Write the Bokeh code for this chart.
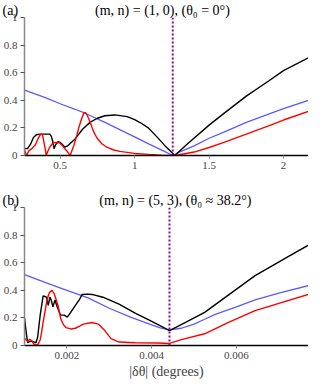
from bokeh.plotting import figure
from bokeh.layouts import column
from bokeh.models import FixedTicker, Range1d, Title
from bokeh.embed import file_html
from bokeh.resources import INLINE

# ---------------- panel (a) data ----------------
a_black_x = [0.26, 0.28, 0.30, 0.32, 0.34, 0.36, 0.40, 0.43, 0.44, 0.45, 0.458, 0.47, 0.485, 0.50, 0.515, 0.53,
             0.55, 0.60, 0.65, 0.70, 0.75, 0.80, 0.867, 0.95, 1.00, 1.05, 1.094, 1.15, 1.20, 1.27, 1.35, 1.50,
             1.60, 1.75, 1.90, 2.00, 2.168]
a_black_y = [0.05, 0.05, 0.08, 0.13, 0.15, 0.155, 0.155, 0.155, 0.14, 0.10, 0.05, 0.08, 0.10, 0.095, 0.08, 0.06,
             0.07, 0.12, 0.19, 0.24, 0.27, 0.288, 0.294, 0.282, 0.26, 0.23, 0.198, 0.135, 0.075, 0.0, 0.08, 0.22,
             0.305, 0.43, 0.54, 0.615, 0.709]

a_red_x = [0.26, 0.274, 0.29, 0.31, 0.334, 0.35, 0.365, 0.38, 0.39, 0.40, 0.406, 0.42, 0.432, 0.45, 0.465, 0.48,
           0.497, 0.515, 0.528, 0.55, 0.567, 0.58, 0.594, 0.61, 0.627, 0.645, 0.659, 0.67, 0.68, 0.70, 0.715,
           0.73, 0.748, 0.78, 0.813, 0.86, 0.9, 1.0, 1.094, 1.18, 1.256, 1.3, 1.4, 1.5, 1.6, 1.75, 1.9, 2.0, 2.168]
a_red_y = [0.04, 0.0, 0.035, 0.05, 0.08, 0.12, 0.15, 0.155, 0.10, 0.04, 0.0, 0.04, 0.065, 0.09, 0.094, 0.095,
           0.09, 0.07, 0.053, 0.025, 0.0, 0.04, 0.08, 0.14, 0.21, 0.27, 0.31, 0.31, 0.295, 0.245, 0.2,
           0.16, 0.125, 0.085, 0.06, 0.04, 0.03, 0.015, 0.008, 0.003, 0.0, 0.005, 0.025, 0.058, 0.095, 0.155,
           0.215, 0.257, 0.32]

a_blue_x = [0.26, 0.4, 0.5, 0.6, 0.659, 0.7, 0.8, 0.9, 1.0, 1.094, 1.2, 1.256, 1.3, 1.4, 1.5, 1.6, 1.75, 1.9,
            2.0, 2.168]
a_blue_y = [0.474, 0.42, 0.375, 0.335, 0.31, 0.29, 0.24, 0.187, 0.135, 0.084, 0.03, 0.0, 0.025, 0.07, 0.125,
            0.17, 0.24, 0.30, 0.34, 0.40]

a_marker_x = 1.256
a_xrange = (0.26, 2.168)
a_xticks = [0.5, 1, 1.5, 2]
a_xlabels = ["0.5", "1", "1.5", "2"]
a_tag = "(a)"
a_title = "(m, n) = (1, 0), (θ₀ = 0°)"

# ---------------- panel (b) data ----------------
b_black_x = [0.001, 0.00103, 0.00106, 0.00108, 0.00113, 0.00118, 0.00123, 0.00127, 0.00131, 0.00137, 0.00144,
             0.00148, 0.00152, 0.00156, 0.0016, 0.00163, 0.00167, 0.00172, 0.00176, 0.00185, 0.00194, 0.00201,
             0.00209, 0.0022, 0.0023, 0.00236, 0.00248, 0.00259, 0.00285, 0.00323, 0.00361, 0.00392, 0.00415,
             0.00442, 0.0048, 0.00525, 0.0058, 0.00644, 0.0072, 0.0077]
b_black_y = [0.2, 0.12, 0.05, 0.02, 0.03, 0.03, 0.025, 0.02, 0.06, 0.22, 0.36,
             0.355, 0.35, 0.29, 0.35, 0.33, 0.28, 0.33, 0.29, 0.22, 0.22, 0.205,
             0.24, 0.29, 0.335, 0.37, 0.372, 0.37, 0.35, 0.30, 0.235, 0.188, 0.152,
             0.108, 0.168, 0.24, 0.363, 0.506, 0.64, 0.728]

b_red_x = [0.001, 0.00105, 0.00108, 0.00112, 0.00117, 0.00122, 0.00127, 0.00132, 0.00137, 0.0014, 0.00144,
           0.00148, 0.00152, 0.00156, 0.00159, 0.00165, 0.0017, 0.00175, 0.00179, 0.00186, 0.00192, 0.00198,
           0.00209, 0.0022, 0.0023, 0.00239, 0.00259, 0.00274, 0.00289, 0.00304, 0.00323, 0.00361, 0.00415,
           0.00442, 0.0047, 0.00525, 0.0058, 0.00644, 0.0077]
b_red_y = [0.053, 0.035, 0.03, 0.045, 0.035, 0.01, 0.002, 0.01, 0.04, 0.09, 0.17,
           0.24, 0.31, 0.36, 0.385, 0.40, 0.375, 0.33, 0.29, 0.19, 0.15, 0.13,
           0.12, 0.125, 0.14, 0.155, 0.167, 0.155, 0.11, 0.05, 0.025, 0.02, 0.018,
           0.015, 0.043, 0.085, 0.165, 0.253, 0.371]

b_blue_x = [0.001, 0.0015, 0.002, 0.0025, 0.003, 0.0035, 0.004, 0.0042, 0.00442, 0.0047, 0.005, 0.00525,
            0.0055, 0.006, 0.00644, 0.007, 0.0077]
b_blue_y = [0.513, 0.455, 0.40, 0.345, 0.27, 0.205, 0.15, 0.128, 0.113, 0.125, 0.155, 0.19,
            0.225, 0.28, 0.33, 0.38, 0.434]

b_marker_x = 0.00442
b_xrange = (0.001, 0.0077)
b_xticks = [0.002, 0.004, 0.006]
b_xlabels = ["0.002", "0.004", "0.006"]
b_tag = "(b)"
b_title = "(m, n) = (5, 3), (θ₀ ≈ 38.2°)"
b_xlabel = "|δθ| (degrees)"

y_ticks = [0, 0.2, 0.4, 0.6, 0.8, 1]
y_labels = ["0", "0.2", "0.4", "0.6", "0.8", "1"]

SERIF = "'Liberation Serif', 'DejaVu Serif', serif"
NBSP = "\u00a0"


def panel(tag, title, gap, bx, by, rx, ry, ux, uy, mx, xr, xt, xl, top, xlabel=None):
    p = figure(frame_width=284, frame_height=138, output_backend="svg", toolbar_location=None,
               x_range=Range1d(*xr), y_range=Range1d(0, 1.0),
               min_border_left=24, min_border_right=0, min_border_top=top, min_border_bottom=0)
    p.title = Title(text=tag + NBSP * gap + title, text_font=SERIF, text_font_size="14px",
                    text_font_style="normal", align="left", offset=-22, standoff=0, text_color="black")
    p.outline_line_color = None
    p.background_fill_color = "white"
    p.border_fill_color = "white"
    p.xgrid.grid_line_color = None
    p.ygrid.grid_line_color = None

    # curves
    p.line(ux, uy, line_color="#5a5aff", line_width=1.3)
    p.line(bx, by, line_color="black", line_width=1.4)
    p.line(rx, ry, line_color="#ff0000", line_width=1.4)
    p.segment(x0=[mx], y0=[0], x1=[mx], y1=[1], line_color="#990099", line_width=2, line_dash="2 2")

    # axes
    xa = p.xaxis[0]
    xa.ticker = FixedTicker(ticks=xt)
    xa.major_label_overrides = {t: l for t, l in zip(xt, xl)}
    xa.minor_tick_line_color = None
    xa.major_tick_out = 3
    xa.major_tick_in = 0
    xa.axis_line_color = "black"
    xa.axis_line_width = 1.3
    xa.major_tick_line_color = "#888888"
    xa.major_label_text_font = SERIF
    xa.major_label_text_font_size = "11px"
    xa.major_label_standoff = 3
    if xlabel:
        xa.axis_label = xlabel
        xa.axis_label_text_font = SERIF
        xa.axis_label_text_font_style = "normal"
        xa.axis_label_text_font_size = "14px"
        xa.axis_label_standoff = 2

    ya = p.yaxis[0]
    ya.ticker = FixedTicker(ticks=y_ticks)
    ya.major_label_overrides = {t: l for t, l in zip(y_ticks, y_labels)}
    ya.minor_tick_line_color = None
    ya.major_tick_out = 4
    ya.major_tick_in = 0
    ya.axis_line_color = "#888888"
    ya.axis_line_width = 1.5
    ya.major_tick_line_color = "#555555"
    ya.major_label_text_font = SERIF
    ya.major_label_text_font_size = "11px"
    ya.major_label_standoff = 3
    return p


pa = panel(a_tag, a_title, 22, a_black_x, a_black_y, a_red_x, a_red_y, a_blue_x, a_blue_y,
           a_marker_x, a_xrange, a_xticks, a_xlabels, 14)
pb = panel(b_tag, b_title, 23, b_black_x, b_black_y, b_red_x, b_red_y, b_blue_x, b_blue_y,
           b_marker_x, b_xrange, b_xticks, b_xlabels, 36, xlabel=b_xlabel)

layout = column(pa, pb, spacing=0)
open("out.html", "w").write(file_html(layout, INLINE))
